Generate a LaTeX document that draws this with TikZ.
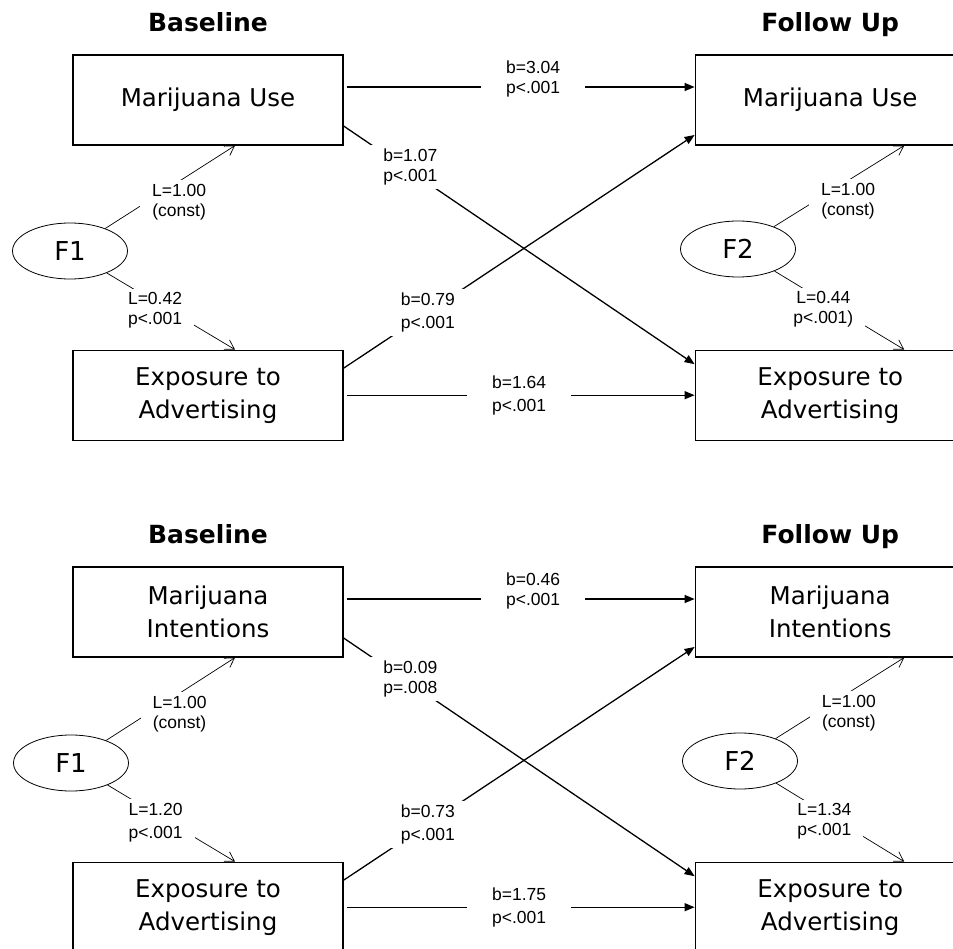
\documentclass[tikz,border=0pt]{standalone}
\usepackage{fontspec}
\setmainfont{DejaVu Sans}
\newfontfamily\lblfont{Liberation Sans}
\usepackage{tikz}
\usetikzlibrary{shapes,arrows.meta,positioning}

\begin{document}
\begin{tikzpicture}[x=1pt, y=-1pt, node distance=204pt and 351pt,
		var/.style={rectangle, draw, line width=1.2pt, minimum width=270pt, minimum height=90pt, align=center, font=\fontsize{24.5}{33}\selectfont},
		lat/.style={ellipse, draw, line width=0.8pt, minimum width=115pt, minimum height=56pt, inner sep=0pt, font=\fontsize{26}{28}\selectfont},
		hdr/.style={inner sep=0pt, text depth=0pt, font=\bfseries\fontsize{25}{28}\selectfont},
		coef/.style={fill=white, inner xsep=12pt, inner ysep=4pt, align=center, font=\lblfont\fontsize{17.5}{20}\selectfont},
		reg/.style={line width=1.3pt, -{Triangle[length=10pt,width=8pt]}},
		load/.style={line width=0.7pt, -{Straight Barb[length=9pt,width=11pt]}}]
	\useasboundingbox (0,0) rectangle (953,949);
	% marijuana use
	\node [var] (use-base) at (208,100) {Marijuana Use};
	\node [var] (use-fu) [right=of use-base] {Marijuana Use};
	\node [var] (adv-base) [below=of use-base] {Exposure to\\Advertising};
	\node [var] (adv-fu) [below=of use-fu] {Exposure to\\Advertising};
	\node [hdr] (hdr-base) [above=23pt of use-base] {Baseline};
	\node [hdr] (hdr-fu) [above=23pt of use-fu] {Follow Up};
	\node [lat] (f1-top) at (70,251) {F1};
	\node [lat] (f2-top) at (738,249) {F2};
	\draw [reg, shorten <=3pt] ([yshift=13pt]use-base.east) -- node [coef, inner xsep=25pt, pos=0.54, yshift=8pt] {b=3.04\\p<.001} ([yshift=13pt]use-fu.west);
	\draw [reg, shorten <=3pt] (adv-base.east) -- node [coef, inner xsep=25pt] {b=1.64\\[3pt]p<.001} (adv-fu.west);
	\draw [reg] ([yshift=-26pt]use-base.east) -- node [coef, pos=0.19, yshift=4pt] {b=1.07\\p<.001} ([yshift=31pt]adv-fu.west);
	\draw [reg] ([yshift=27pt]adv-base.east) -- node [coef, pos=0.24] {b=0.79\\[3pt]p<.001} ([yshift=-35pt]use-fu.west);
	\draw [load] (f1-top) -- node [coef, xshift=9pt, yshift=-15pt] {L=1.00\\(const)} ([xshift=27pt]use-base.south);
	\draw [load] (f1-top) -- node [coef, pos=0.4, xshift=-3pt, yshift=-7pt] {L=0.42\\p<.001} ([xshift=27pt]adv-base.north);
	\draw [load] (f2-top) -- node [coef, xshift=9pt, yshift=-15pt] {L=1.00\\(const)} ([xshift=74pt]use-fu.south);
	\draw [load] (f2-top) -- node [coef, pos=0.4, xshift=-3pt, yshift=-7pt] {L=0.44\\p<.001)} ([xshift=74pt]adv-fu.north);
	% marijuana intentions
	\begin{scope}[yshift=-512pt]
		\node [var] (int-base) at (208,100) {Marijuana\\Intentions};
		\node [var] (int-fu) [right=of int-base] {Marijuana\\Intentions};
		\node [var] (adv2-base) [below=of int-base] {Exposure to\\Advertising};
		\node [var] (adv2-fu) [below=of int-fu] {Exposure to\\Advertising};
		\node [hdr] (hdr2-base) [above=23pt of int-base] {Baseline};
		\node [hdr] (hdr2-fu) [above=23pt of int-fu] {Follow Up};
		\node [lat] (f1-bot) at (71,251) {F1};
		\node [lat] (f2-bot) at (740,249) {F2};
		\draw [reg, shorten <=3pt] ([yshift=13pt]int-base.east) -- node [coef, inner xsep=25pt, pos=0.54, yshift=8pt] {b=0.46\\p<.001} ([yshift=13pt]int-fu.west);
		\draw [reg, shorten <=3pt] (adv2-base.east) -- node [coef, inner xsep=25pt] {b=1.75\\[3pt]p<.001} (adv2-fu.west);
		\draw [reg] ([yshift=-26pt]int-base.east) -- node [coef, pos=0.19, yshift=4pt] {b=0.09\\p=.008} ([yshift=31pt]adv2-fu.west);
		\draw [reg] ([yshift=27pt]adv2-base.east) -- node [coef, pos=0.24] {b=0.73\\[3pt]p<.001} ([yshift=-35pt]int-fu.west);
		\draw [load] (f1-bot) -- node [coef, xshift=9pt, yshift=-15pt] {L=1.00\\(const)} ([xshift=27pt]int-base.south);
		\draw [load] (f1-bot) -- node [coef, pos=0.4, xshift=-3pt, yshift=-7pt] {L=1.20\\[3pt]p<.001} ([xshift=27pt]adv2-base.north);
		\draw [load] (f2-bot) -- node [coef, xshift=9pt, yshift=-15pt] {L=1.00\\(const)} ([xshift=74pt]int-fu.south);
		\draw [load] (f2-bot) -- node [coef, pos=0.4, xshift=-3pt, yshift=-7pt] {L=1.34\\p<.001} ([xshift=74pt]adv2-fu.north);
	\end{scope}
\end{tikzpicture}
\end{document}
